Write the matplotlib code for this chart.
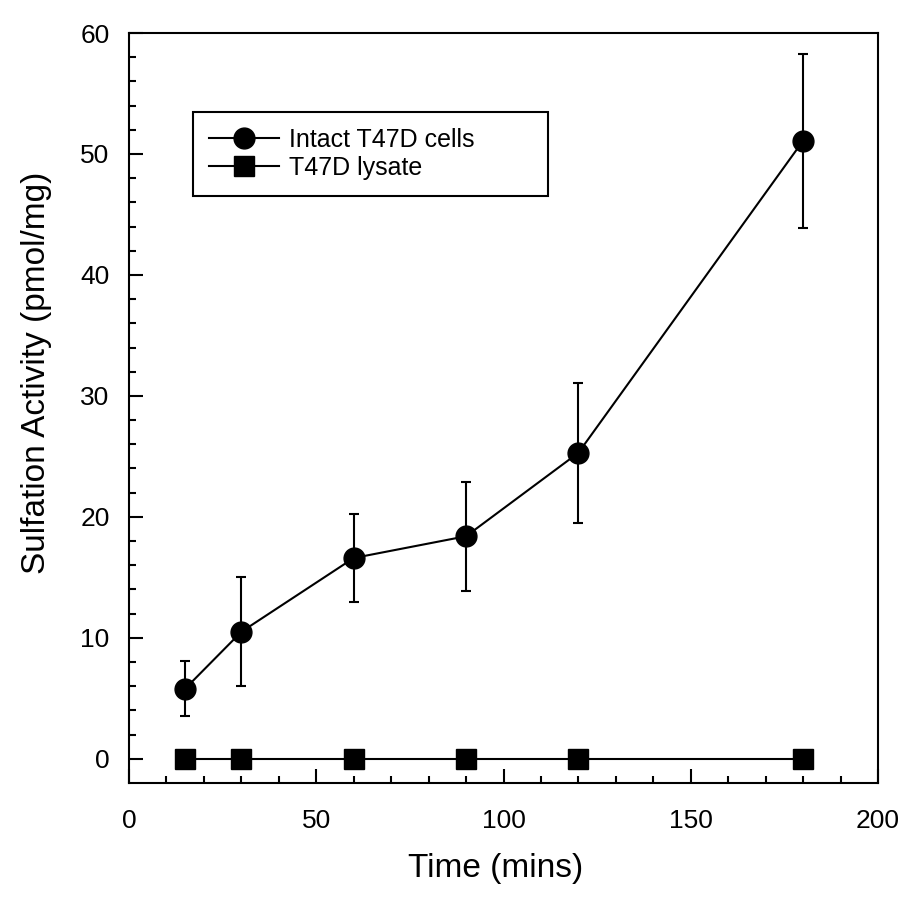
import numpy as np
import matplotlib
matplotlib.use("Agg")
import matplotlib.pyplot as plt
from matplotlib.ticker import MultipleLocator, FixedLocator

plt.rcParams['font.family'] = ['Liberation Sans', 'DejaVu Sans']

# datos
tiempo = [15, 30, 60, 90, 120, 180]
intactas = [5.8, 10.5, 16.6, 18.4, 25.3, 51.1]
err_intactas = [2.3, 4.5, 3.6, 4.5, 5.8, 7.2]
lisado = [0, 0, 0, 0, 0, 0]

fig = plt.figure(figsize=(9.15, 9.0), dpi=100)
ax = fig.add_axes([0.141, 0.130, 0.8186, 0.8333])

ax.errorbar(tiempo, intactas, yerr=err_intactas, fmt='none', ecolor='black',
            elinewidth=1.5, capsize=3.5, capthick=1.5)
ax.plot(tiempo, intactas, color='black', marker='o', markersize=15, linewidth=1.5,
        label='Intact T47D cells')
ax.plot(tiempo, lisado, color='black', marker='s', markersize=14, linewidth=1.5,
        label='T47D lysate')

ax.set_xlim(0, 200)
ax.set_ylim(-2, 60)
ax.xaxis.set_major_locator(MultipleLocator(50))
ax.xaxis.set_minor_locator(MultipleLocator(10))
ax.yaxis.set_major_locator(FixedLocator(np.arange(0, 61, 10)))
ax.yaxis.set_minor_locator(FixedLocator(np.arange(0, 61, 2)))
ax.tick_params(which='both', direction='in', top=False, right=False, width=1.5)
ax.tick_params(which='major', length=10, labelsize=19)
ax.tick_params(which='minor', length=5)
ax.tick_params(axis='x', pad=19)
ax.tick_params(axis='y', pad=14)
for s in ax.spines.values():
    s.set_linewidth(1.5)

ax.set_xlabel('Time (mins)', fontsize=24, labelpad=14)
ax.set_ylabel('Sulfation Activity (pmol/mg)', fontsize=24, labelpad=20)
ax.xaxis.label.set_x(0.489)
ax.yaxis.label.set_y(0.547)

# leyenda
leg = ax.legend(loc='upper left', bbox_to_anchor=(0.0854, 0.795, 0.474, 0.1),
                mode='expand', borderaxespad=0, fontsize=18, fancybox=False,
                edgecolor='black', framealpha=1, handlelength=2.8,
                handletextpad=0.4, labelspacing=0.15, borderpad=0.65)
leg.get_frame().set_linewidth(1.5)

fig.savefig('out.png', dpi=100)
